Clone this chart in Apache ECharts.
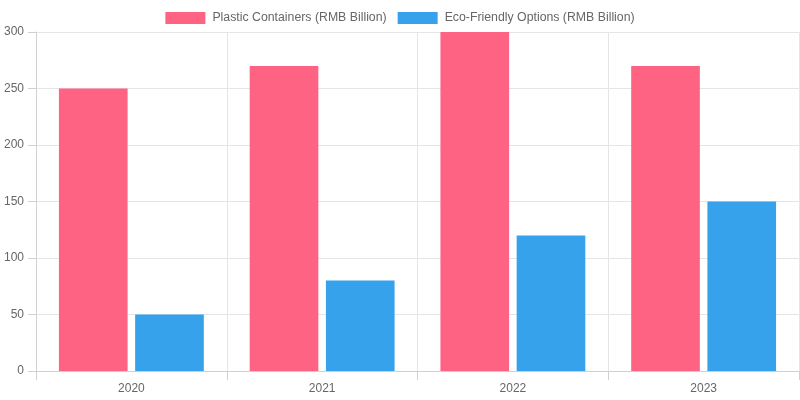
<!DOCTYPE html>
<html><head><meta charset="utf-8">
<script src="https://cdn.jsdelivr.net/npm/echarts@6/dist/echarts.min.js"></script>
<style>html,body{margin:0;padding:0;background:#fff}#c{width:800px;height:400px}</style>
</head><body><div id="c"></div>
<script>
var categories = ['2020', '2021', '2022', '2023'];
var plasticValues = [250, 270, 300, 270];
var ecoValues = [50, 80, 120, 150];
var seriesNames = ['Plastic Containers (RMB Billion)', 'Eco-Friendly Options (RMB Billion)'];

var chart = echarts.init(document.getElementById('c'), null, {renderer: 'canvas'});
var font = '"Liberation Sans", Arial, Helvetica, sans-serif';
chart.setOption({
  animation: false,
  textStyle: {fontFamily: font},
  legend: {
    top: 7, left: 'center', itemWidth: 40, itemHeight: 12, itemGap: 11,
    icon: 'rect',
    textStyle: {color: '#666', fontSize: 12.3, fontFamily: font, padding: [0, 0, 0, 2]}
  },
  grid: {left: 36, right: 1, top: 32, bottom: 29, containLabel: false},
  xAxis: {
    type: 'category', data: categories, boundaryGap: true,
    axisLine: {show: true, lineStyle: {color: '#d0d0d0'}},
    axisTick: {show: true, length: 9, lineStyle: {color: '#d0d0d0'}},
    splitLine: {show: true, lineStyle: {color: '#e5e5e5'}},
    axisLabel: {color: '#666', fontSize: 12, margin: 12, fontFamily: font}
  },
  yAxis: {
    type: 'value', min: 0, max: 300, interval: 50,
    axisLine: {show: true, lineStyle: {color: '#d0d0d0'}},
    axisTick: {show: true, length: 8, lineStyle: {color: '#d0d0d0'}},
    splitLine: {show: true, lineStyle: {color: '#e5e5e5'}},
    axisLabel: {color: '#666', fontSize: 12, margin: 12, fontFamily: font}
  },
  series: [
    {name: seriesNames[0], type: 'bar', data: plasticValues, barWidth: '36%', barGap: '11%',
     itemStyle: {color: '#ff6384'}},
    {name: seriesNames[1], type: 'bar', data: ecoValues, barWidth: '36%', barGap: '11%',
     itemStyle: {color: '#36a2eb'}}
  ]
});
</script></body></html>
